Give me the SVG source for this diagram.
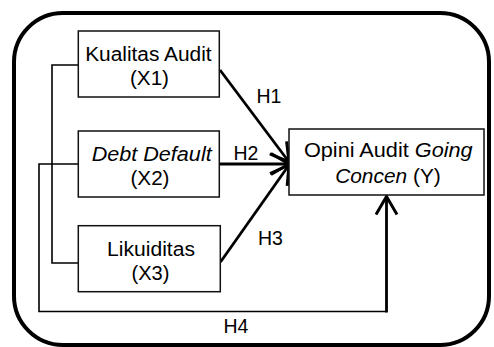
<svg xmlns="http://www.w3.org/2000/svg" width="494" height="347" viewBox="0 0 494 347">
<style>
.box{fill:#fff;stroke:#111;stroke-width:1.5}
.t{font-family:"Liberation Sans",Arial,sans-serif;font-size:19.5px;fill:#000;text-anchor:middle}
.i{font-style:italic}
.thin{fill:none;stroke:#000;stroke-width:1.6}
.thick{fill:none;stroke:#000;stroke-width:2.8}
</style>
<defs>
<marker id="ah" markerUnits="userSpaceOnUse" viewBox="-20 -12 22 24" refX="0" refY="0" markerWidth="22" markerHeight="24" orient="auto">
<path d="M-18,-10.5 L0,0 L-18,10.5" fill="none" stroke="#000" stroke-width="3"/>
</marker>
</defs>
<rect x="14" y="13" width="475" height="332" rx="49" ry="49" fill="#fff" stroke="#000" stroke-width="4"/>
<g id="connectors">
<polyline class="thin" points="78,65 52,65 52,263 78,263"/>
<polyline class="thin" points="78,164 39,164 39,311.5 386.5,311.5"/>
<line class="thick" x1="386.5" y1="312.5" x2="386.5" y2="196.5" marker-end="url(#ah)"/>
<line class="thick" x1="220" y1="70" x2="289" y2="162" marker-end="url(#ah)"/>
<line class="thick" x1="220" y1="164" x2="289" y2="164" marker-end="url(#ah)"/>
<line class="thick" x1="220.5" y1="262" x2="289" y2="165" marker-end="url(#ah)"/>
<text class="t" x="269" y="102.5">H1</text>
<text class="t" x="246" y="159.5">H2</text>
<text class="t" x="270.5" y="245">H3</text>
<text class="t" x="236" y="332.5">H4</text>
</g>
<g id="x1">
<rect class="box" x="78.3" y="31" width="141" height="66"/>
<text class="t" x="148.4" y="61" textLength="126.5" lengthAdjust="spacingAndGlyphs">Kualitas Audit</text>
<text class="t" x="149.5" y="85" textLength="39" lengthAdjust="spacingAndGlyphs">(X1)</text>
</g>
<g id="x2">
<rect class="box" x="78.3" y="131" width="141" height="66"/>
<text class="t i" x="151.7" y="161" textLength="120" lengthAdjust="spacingAndGlyphs">Debt Default</text>
<text class="t" x="150" y="185" textLength="39" lengthAdjust="spacingAndGlyphs">(X2)</text>
</g>
<g id="x3">
<rect class="box" x="78.3" y="225.7" width="142" height="66"/>
<text class="t" x="151" y="256" textLength="88" lengthAdjust="spacingAndGlyphs">Likuiditas</text>
<text class="t" x="150.5" y="280" textLength="38" lengthAdjust="spacingAndGlyphs">(X3)</text>
</g>
<g id="y">
<rect class="box" x="289" y="129" width="195" height="66"/>
<text class="t" x="388.3" y="156.7" textLength="168.7" lengthAdjust="spacingAndGlyphs">Opini Audit <tspan class="i">Going</tspan></text>
<text class="t" x="388" y="183" textLength="105.7" lengthAdjust="spacingAndGlyphs"><tspan class="i">Concen</tspan> (Y)</text>
</g>
</svg>
